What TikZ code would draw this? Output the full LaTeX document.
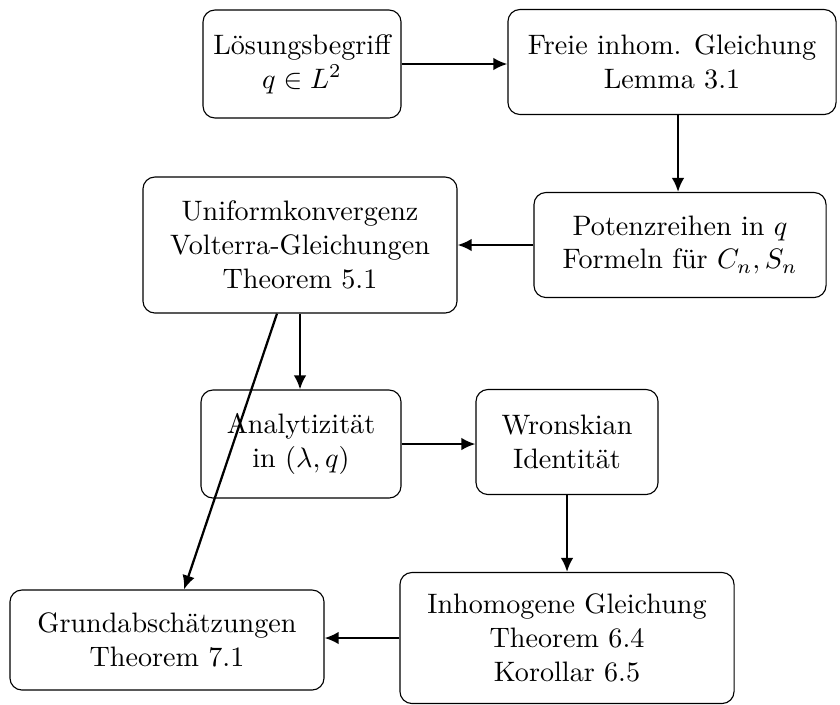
\documentclass[tikz,border=0pt]{standalone}
\usetikzlibrary{arrows.meta}
\begin{document}
\begin{tikzpicture}[x=0.0125cm,y=-0.0125cm,
  box/.style={draw,rounded corners=0.15cm,align=center,inner sep=0pt,line width=0.4pt},
  arr/.style={-{Latex[length=5pt,width=4.5pt]},line width=0.8pt}]
\useasboundingbox (0,0) rectangle (840,704);
\node[box,minimum width=2.475cm,minimum height=1.35cm] (l) at (302,64) {Lösungsbegriff\\ $q\in L^2$};
\node[box,minimum width=4.1cm,minimum height=1.3125cm] (f) at (672,62) {Freie inhom. Gleichung\\ Lemma 3.1};
\node[box,minimum width=3.65cm,minimum height=1.3125cm] (p) at (680,245) {Potenzreihen in $q$\\ Formeln für $C_n,S_n$};
\node[box,minimum width=3.925cm,minimum height=1.7cm] (u) at (300,245) {Uniformkonvergenz\\ Volterra-Gleichungen\\ Theorem 5.1};
\node[box,minimum width=2.5cm,minimum height=1.35cm] (a) at (301,444) {Analytizität\\ in $(\lambda,q)$};
\node[box,minimum width=2.275cm,minimum height=1.3125cm] (w) at (567,442) {Wronskian\\ Identität};
\node[box,minimum width=4.175cm,minimum height=1.6375cm] (i) at (567,638) {Inhomogene Gleichung\\ Theorem 6.4\\ Korollar 6.5};
\node[box,minimum width=3.925cm,minimum height=1.25cm] (g) at (167,640) {Grundabschätzungen\\ Theorem 7.1};
\draw[arr] (l.east) -- (l.east -| f.west);
\draw[arr] ([xshift=0.075cm]f.south) -- ([xshift=0.075cm]f.south |- p.north);
\draw[arr] (p.west) -- (p.west -| u.east);
\draw[arr] (u.south) -- (u.south |- a.north);
\draw[arr] (a.east) -- (a.east -| w.west);
\draw[arr] (w.south) -- (w.south |- i.north);
\draw[arr] (i.west) -- (i.west -| g.east);
\draw[arr] ([xshift=-0.2875cm]u.south) -- ([xshift=0.2125cm]g.north);
\end{tikzpicture}
\end{document}
